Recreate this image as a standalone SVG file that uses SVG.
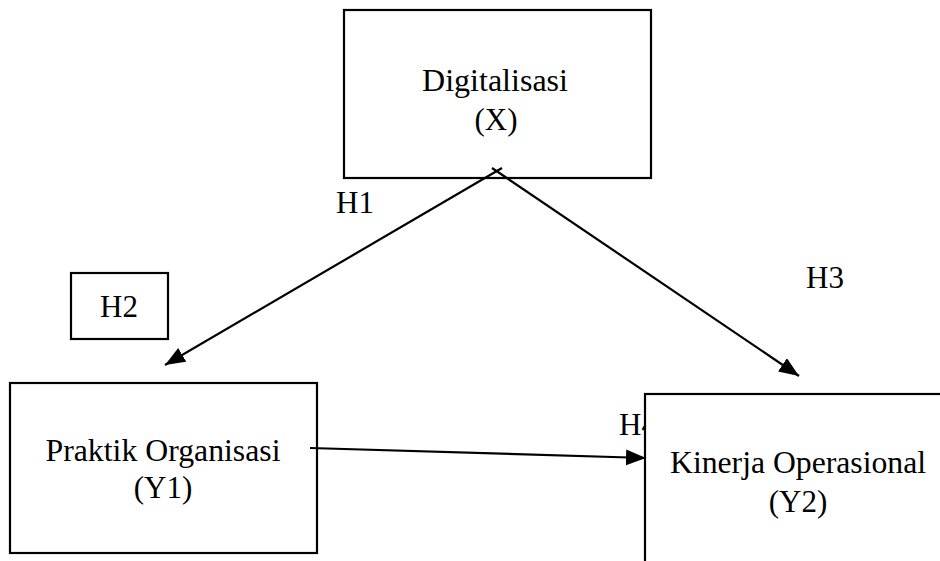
<svg xmlns="http://www.w3.org/2000/svg" width="940" height="561" viewBox="0 0 940 561">
<defs>
<style>
.box{fill:#fff;stroke:#000;stroke-width:2.2}
.lbl{font-family:"Liberation Serif","Times New Roman",serif;font-size:31px;fill:#000}
.mid{text-anchor:middle}
.con{stroke:#000;stroke-width:2.2;fill:none}
</style>
<marker id="ah" markerUnits="userSpaceOnUse" markerWidth="22" markerHeight="18" refX="20" refY="8" orient="auto">
<path d="M0,0 L20,8 L0,16 Z" fill="#000"/>
</marker>
</defs>
<rect width="940" height="561" fill="#fff"/>
<g id="labels-behind">
<text class="lbl" x="619" y="435">H4</text>
</g>
<g id="node-x">
<rect class="box" x="344" y="10" width="307" height="168"/>
<text class="lbl mid" x="495" y="91" textLength="146" lengthAdjust="spacingAndGlyphs">Digitalisasi</text>
<text class="lbl mid" x="496" y="130">(X)</text>
</g>
<g id="node-h2">
<rect class="box" x="71" y="273" width="97" height="66"/>
<text class="lbl mid" x="119" y="317">H2</text>
</g>
<g id="node-y1">
<rect class="box" x="10" y="383" width="307" height="170"/>
<text class="lbl mid" x="163" y="461" textLength="235" lengthAdjust="spacingAndGlyphs">Praktik Organisasi</text>
<text class="lbl mid" x="163" y="498">(Y1)</text>
</g>
<g id="node-y2">
<rect class="box" x="645" y="394" width="320" height="200"/>
<text class="lbl mid" x="798" y="473" textLength="256" lengthAdjust="spacingAndGlyphs">Kinerja Operasional</text>
<text class="lbl mid" x="798" y="512">(Y2)</text>
</g>
<g id="connectors">
<line class="con" x1="502" y1="168" x2="165" y2="365" marker-end="url(#ah)"/>
<line class="con" x1="492" y1="168" x2="799" y2="376" marker-end="url(#ah)"/>
<line class="con" x1="310" y1="448" x2="646" y2="458" marker-end="url(#ah)"/>
</g>
<g id="edge-labels">
<text class="lbl" x="336" y="213">H1</text>
<text class="lbl" x="806" y="288">H3</text>
</g>
</svg>
